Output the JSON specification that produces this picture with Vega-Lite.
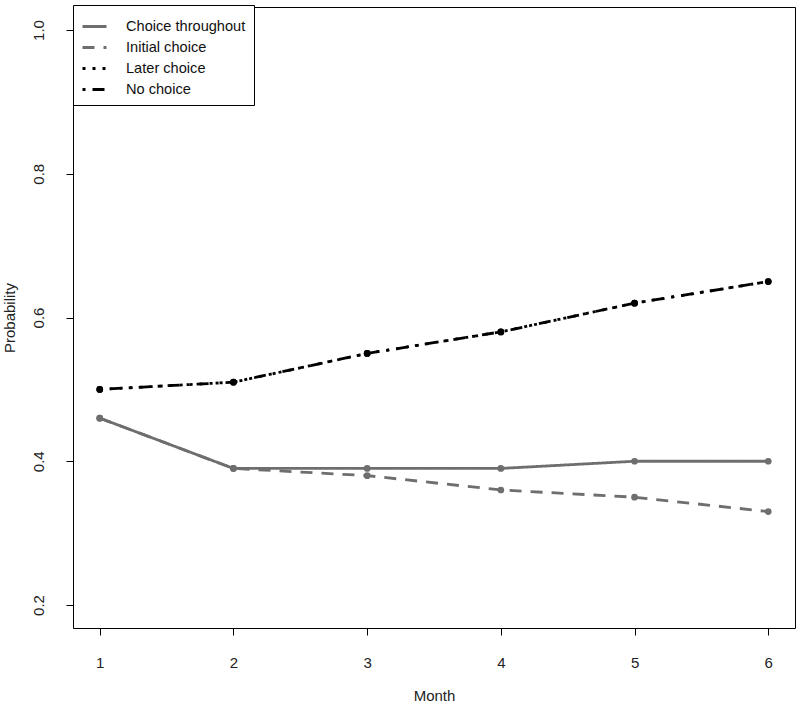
{
  "$schema": "https://vega.github.io/schema/vega-lite/v6.json",
  "width": 722,
  "height": 621,
  "autosize": "none",
  "padding": {"left": 73, "top": 7, "right": 5, "bottom": 83},
  "background": "white",
  "config": {
    "font": "Liberation Sans",
    "view": {"stroke": "black", "strokeWidth": 1},
    "axis": {"grid": false, "domain": false, "tickColor": "black", "tickSize": 7, "labelColor": "#222", "titleColor": "#222", "labelFont": "Liberation Sans", "titleFont": "Liberation Sans", "titleFontWeight": "normal", "labelFontSize": 15, "titleFontSize": 15},
    "legend": {
      "title": null,
      "orient": "none",
      "legendX": 0,
      "legendY": -2,
      "symbolType": "stroke",
      "symbolSize": 576,
      "symbolStrokeWidth": 3,
      "labelFontSize": 14.6,
      "labelColor": "#111",
      "labelFont": "Liberation Sans",
      "strokeColor": "black",
      "fillColor": "white",
      "padding": 8,
      "rowPadding": -7,
      "labelOffset": 18,
      "labelLimit": 300
    }
  },
  "data": {
    "values": [
      {"month": 1, "prob": 0.46, "group": "Choice throughout"},
      {"month": 2, "prob": 0.39, "group": "Choice throughout"},
      {"month": 3, "prob": 0.39, "group": "Choice throughout"},
      {"month": 4, "prob": 0.39, "group": "Choice throughout"},
      {"month": 5, "prob": 0.40, "group": "Choice throughout"},
      {"month": 6, "prob": 0.40, "group": "Choice throughout"},
      {"month": 1, "prob": 0.46, "group": "Initial choice"},
      {"month": 2, "prob": 0.39, "group": "Initial choice"},
      {"month": 3, "prob": 0.38, "group": "Initial choice"},
      {"month": 4, "prob": 0.36, "group": "Initial choice"},
      {"month": 5, "prob": 0.35, "group": "Initial choice"},
      {"month": 6, "prob": 0.33, "group": "Initial choice"},
      {"month": 1, "prob": 0.50, "group": "Later choice"},
      {"month": 2, "prob": 0.51, "group": "Later choice"},
      {"month": 3, "prob": 0.55, "group": "Later choice"},
      {"month": 4, "prob": 0.58, "group": "Later choice"},
      {"month": 5, "prob": 0.62, "group": "Later choice"},
      {"month": 6, "prob": 0.65, "group": "Later choice"},
      {"month": 1, "prob": 0.50, "group": "No choice"},
      {"month": 2, "prob": 0.51, "group": "No choice"},
      {"month": 3, "prob": 0.55, "group": "No choice"},
      {"month": 4, "prob": 0.58, "group": "No choice"},
      {"month": 5, "prob": 0.62, "group": "No choice"},
      {"month": 6, "prob": 0.65, "group": "No choice"}
    ]
  },
  "encoding": {
    "x": {
      "field": "month", "type": "quantitative",
      "scale": {"domain": [0.8, 6.2], "nice": false, "zero": false},
      "axis": {"values": [1, 2, 3, 4, 5, 6], "format": "d", "title": "Month", "labelPadding": 20, "titlePadding": 18}
    },
    "y": {
      "field": "prob", "type": "quantitative",
      "scale": {"domain": [0.168, 1.032], "nice": false, "zero": false},
      "axis": {"values": [0.2, 0.4, 0.6, 0.8, 1.0], "format": ".1f", "title": "Probability", "labelAngle": -90, "labelAlign": "center", "labelBaseline": "bottom", "labelPadding": 20, "titlePadding": 14}
    },
    "color": {
      "field": "group", "type": "nominal",
      "scale": {"domain": ["Choice throughout", "Initial choice", "Later choice", "No choice"], "range": ["#6e6e6e", "#6e6e6e", "#000000", "#000000"]}
    },
    "strokeDash": {
      "field": "group", "type": "nominal",
      "scale": {"domain": ["Choice throughout", "Initial choice", "Later choice", "No choice"], "range": [[1, 0], [12, 9], [3, 7], [3, 7, 12, 7]]}
    }
  },
  "layer": [
    {
      "mark": {"type": "line", "strokeWidth": 2.8}
    },
    {
      "mark": {"type": "point", "filled": true, "size": 45, "opacity": 1}
    }
  ]
}
